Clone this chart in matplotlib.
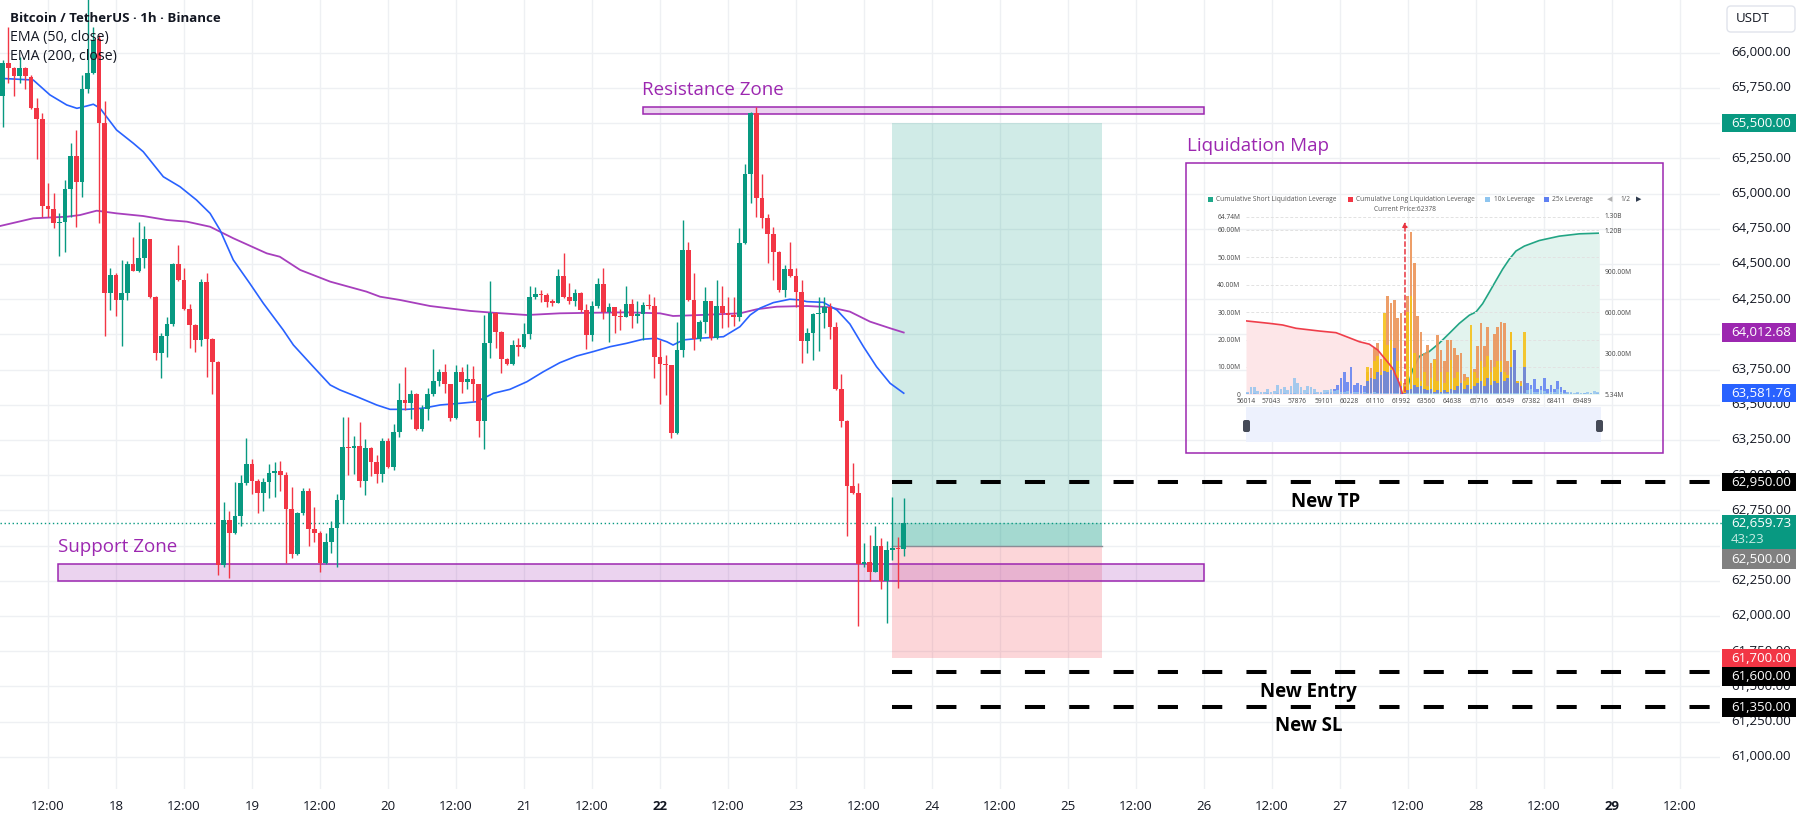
import numpy as np
import matplotlib
matplotlib.use("Agg")
import matplotlib.pyplot as plt
from matplotlib.patches import Rectangle, FancyBboxPatch
import matplotlib.transforms as mtransforms

plt.rcParams['font.family'] = ['Open Sans', 'DejaVu Sans']

# ---------------- DATA ----------------
first_candle_hour = -20   # hours relative to day 18 00:00 (17th 04:00)
opens = [65690, 65930, 65890, 65837, 65889, 65830, 65610, 65527, 64913, 64890,
         64788, 64800, 65030, 65266, 65084, 65740, 65854, 66095, 65504, 64290,
         64423, 64246, 64290, 64500, 64453, 64540, 64676, 64268, 63869, 63988,
         64070, 64500, 64385, 64179, 64064, 63961, 64372, 63969, 63806, 62358,
         62678, 62592, 62706, 62943, 63080, 62961, 62876, 62954, 63014, 63030,
         63000, 62760, 62441, 62734, 62890, 62618, 62592, 62379, 62524, 62621,
         62824, 63203, 63190, 63210, 62959, 63195, 63096, 63009, 63243, 63061,
         63305, 63534, 63514, 63574, 63328, 63468, 63574, 63669, 63731, 63646,
         63409, 63731, 63664, 63683, 63646, 63387, 63937, 64154, 64019, 63823,
         63790, 63924, 63910, 64003, 64263, 64284, 64277, 64232, 64225, 64415,
         64263, 64239, 64292, 64173, 63996, 64200, 64357, 64161, 64192, 64133,
         64125, 64215, 64133, 64145, 64205, 64200, 63837, 63790, 63780, 63302,
         63889, 64599, 64244, 63965, 64086, 64237, 63977, 64202, 64154, 64137,
         64125, 64647, 65137, 65570, 64966, 64824, 64711, 64587, 64315, 64464,
         64417, 64303, 63955, 64008, 64145, 64153, 64192, 64054, 63610, 63387,
         62926, 62876, 62370, 62380, 62315, 62497, 62249, 62469, 62482, 62475]
highs = [65950, 66185, 65900, 65970, 65900, 65840, 65676, 65570, 65073, 65002,
         64859, 65096, 65357, 65451, 65842, 66420, 66185, 66126, 65654, 64472,
         64432, 64527, 64518, 64689, 64798, 64771, 64680, 64270, 64010, 64124,
         64505, 64635, 64472, 64214, 64070, 64390, 64437, 63975, 63810, 62810,
         62747, 62954, 63002, 63262, 63113, 62970, 62978, 63080, 63092, 63103,
         63025, 62916, 62741, 62907, 62907, 62772, 62600, 62588, 62677, 62867,
         63411, 63416, 63281, 63380, 63257, 63200, 63143, 63267, 63267, 63364,
         63657, 63766, 63605, 63580, 63499, 63617, 63896, 63754, 63787, 63650,
         63783, 63766, 63790, 63778, 63650, 64138, 64379, 64160, 64025, 63830,
         63960, 63972, 64079, 64344, 64334, 64315, 64290, 64250, 64464, 64580,
         64363, 64320, 64300, 64216, 64239, 64402, 64473, 64225, 64195, 64180,
         64344, 64249, 64240, 64232, 64287, 64268, 63960, 63853, 63785, 64090,
         64812, 64654, 64434, 64100, 64339, 64240, 64386, 64344, 64268, 64263,
         64753, 65208, 65581, 65612, 65137, 64853, 64765, 64590, 64493, 64654,
         64469, 64386, 64043, 64154, 64268, 64263, 64221, 64090, 63719, 63390,
         63089, 62943, 62521, 62576, 62640, 62552, 62533, 62847, 62563, 62836]
lows = [65470, 65785, 65693, 65785, 65740, 65600, 65243, 64835, 64835, 64757,
        64556, 64582, 64835, 64764, 64977, 65712, 65850, 64793, 63991, 64173,
        64133, 63915, 64241, 64453, 64440, 64472, 64255, 63820, 63692, 63841,
        64060, 64380, 64175, 63901, 63875, 63915, 63700, 63575, 62290, 62350,
        62266, 62580, 62635, 62930, 62867, 62734, 62748, 62836, 62847, 62890,
        62379, 62410, 62430, 62720, 62497, 62528, 62315, 62370, 62450, 62350,
        62663, 63002, 63009, 62914, 62860, 62995, 62943, 62950, 63050, 63037,
        63274, 63463, 63397, 63320, 63316, 63392, 63560, 63634, 63582, 63387,
        63400, 63586, 63610, 63529, 63274, 63184, 63830, 63901, 63724, 63780,
        63785, 63849, 63905, 63965, 64250, 64232, 64196, 64200, 64220, 64260,
        64216, 64200, 64160, 63894, 63955, 64190, 64107, 63948, 64012, 64030,
        64120, 64043, 64080, 63960, 64180, 63692, 63503, 63570, 63266, 63295,
        63841, 64240, 63889, 63950, 64008, 63960, 63970, 64043, 64054, 64059,
        64097, 64640, 64935, 64836, 64753, 64509, 64386, 64303, 64268, 64410,
        64196, 63799, 63870, 63818, 63884, 64043, 63965, 63605, 63340, 62564,
        62867, 61930, 62346, 62249, 62310, 62190, 61953, 62398, 62197, 62422]
closes = [65930, 65890, 65837, 65889, 65837, 65610, 65527, 64913, 64890, 64788,
          64800, 65030, 65266, 65084, 65740, 65854, 66090, 65504, 64290, 64423,
          64246, 64290, 64500, 64453, 64540, 64676, 64268, 63869, 63988, 64070,
          64500, 64385, 64179, 64064, 63961, 64372, 63969, 63806, 62358, 62678,
          62592, 62706, 62943, 63080, 62961, 62876, 62954, 63014, 63030, 63000,
          62760, 62441, 62734, 62890, 62618, 62592, 62379, 62524, 62621, 62824,
          63203, 63190, 63210, 62959, 63195, 63096, 63009, 63243, 63061, 63305,
          63534, 63514, 63574, 63328, 63468, 63574, 63669, 63731, 63646, 63409,
          63731, 63664, 63683, 63646, 63387, 63937, 64154, 64019, 63823, 63790,
          63924, 63910, 64003, 64263, 64284, 64277, 64232, 64225, 64415, 64263,
          64239, 64292, 64173, 63996, 64200, 64357, 64161, 64192, 64133, 64125,
          64215, 64133, 64145, 64205, 64200, 63837, 63790, 63780, 63302, 63889,
          64599, 64244, 63965, 64086, 64237, 63977, 64202, 64154, 64137, 64125,
          64647, 65137, 65570, 64966, 64824, 64711, 64587, 64315, 64464, 64417,
          64303, 63955, 64008, 64145, 64153, 64192, 64054, 63610, 63387, 62926,
          62876, 62370, 62380, 62315, 62497, 62249, 62469, 62482, 62475, 62659.73]

ema50_hours = [-20.47, -14.6, -11.65, -8.7, -6.9, -5.2, -4.0, -2.8, 0.1, 3.05, 4.8, 8.35,
               11.3, 14.2, 16.6, 18.35, 20.7, 23.6, 26.0, 29.5, 31.3, 34.8, 37.8, 39.5,
               42.5, 46.0, 48.35, 51.3, 54.2, 57.2, 60.7, 63.6, 66.6, 69.5, 72.5, 75.4,
               78.3, 81.3, 84.2, 87.2, 90.1, 93.0, 95.4, 97.2, 98.3, 100.1, 103.05, 107.2,
               110.1, 111.9, 113.6, 116.0, 118.9, 120.7, 121.9, 124.8, 127.2, 129.5, 131.9,
               134.2, 136.6, 139]
ema50_vals = [65818, 65806, 65700, 65629, 65605, 65621, 65634, 65605, 65451, 65357, 65297, 65119,
              65048, 64954, 64859, 64741, 64528, 64362, 64220, 64031, 63924, 63770, 63640, 63605,
              63557, 63498, 63467, 63467, 63475, 63498, 63510, 63521, 63581, 63609, 63663, 63734,
              63798, 63846, 63877, 63912, 63936, 63965, 63972, 63947, 63924, 63960, 63972, 63983,
              64054, 64137, 64185, 64225, 64249, 64244, 64232, 64227, 64173, 64073, 63912,
              63770, 63652, 63581.76]
ema200_hours = [-20.47, -14.6, -8.7, -6.35, -3.4, 0.1, 4.8, 8.95, 12.5, 16.6, 20.7, 26.6,
                28.9, 32.5, 37.8, 44.2, 46.6, 50.1, 55.4, 62.5, 66.6, 72.5, 78.3, 84.2,
                90.1, 96.0, 98.3, 103.05, 110.1, 113.1, 116.6, 121.9, 126.0, 129.5, 133.05,
                136.6, 139]
ema200_vals = [64769, 64824, 64835, 64847, 64878, 64859, 64840, 64812, 64800, 64764, 64682, 64575,
               64551, 64457, 64374, 64303, 64267, 64244, 64201, 64166, 64153, 64137, 64149, 64153,
               64156, 64149, 64130, 64137, 64149, 64178, 64196, 64201, 64192, 64161, 64090,
               64043, 64012.68]

current_price = 62659.73
tp_price, entry_price, stop_price = 65500, 62500, 61700
new_levels = [62950, 61600, 61350]
resistance_zone = (65567, 65612)
support_zone = (62246, 62367)

price_ticks = list(range(61000, 66001, 250))
time_tick_hours = list(range(-12, 277, 12))
time_tick_labels = ["12:00", "18", "12:00", "19", "12:00", "20", "12:00", "21", "12:00", "22",
                    "12:00", "23", "12:00", "24", "12:00", "25", "12:00", "26", "12:00", "27",
                    "12:00", "28", "12:00", "29", "12:00"]
bold_time_labels = ["22", "29"]

# liquidation map (values in millions)
liq_light10 = [1.0, 2.5, 2.8, 1.2, 0.8, 1.0, 1.8, 0.9, 1.2, 3.3, 2.0, 2.5, 1.4, 3.0, 5.8, 4.0, 2.8, 1.5,
               3.0, 2.6, 2.0, 1.0, 0.8, 1.5, 1.6, 2.0, 1.2, 1.5,
               1.0, 0.8, 1.2, 0.6, 1.0, 0.8, 0.5, 0.7, 0.6, 0.5, 0.8, 0.6, 0.5, 0.4, 0.6, 0.5, 0.4, 0.3, 0.2,
               0.2, 0.5, 0.6, 0.4, 0.5, 0.3, 0.6, 0.4, 0.5, 0.3, 0.6, 0.4, 0.5, 0.3, 0.4, 0.6, 0.5, 0.4, 0.3,
               0.5, 0.4, 0.6, 0.3, 0.5, 0.4, 0.6, 0.5, 0.4, 0.3, 0.6, 0.5, 0.4, 0.5, 0.3, 0.4, 0.5, 0.6,
               1.5, 2.0, 1.0, 0.8, 1.5, 1.2, 0.6, 1.0, 0.8, 1.8, 0.7, 0.5, 0.8, 1.0, 0.6, 0.7, 0.5, 0.6,
               0.9, 0.5, 1.2, 0.8]
liq_blue25 = [0.3, 0.0, 0.4, 0.0, 0.2, 0.0, 0.3, 0.0, 0.2, 0.5, 0.0, 0.3, 0.0, 0.4, 0.6, 0.0, 0.3, 0.0,
              0.5, 0.0, 0.4, 0.0, 0.3, 0.6, 0.8,
              1.0, 2.0, 3.5, 6.0, 8.0, 4.5, 9.9, 3.5, 4.0, 3.5, 3.0, 5.0, 6.0, 5.5, 8.0, 7.0, 8.5, 8.0,
              9.0, 16.8, 6.0, 3.0,
              0.5, 1.5, 2.0, 3.5, 2.5, 3.0, 2.0, 1.5, 2.0, 1.0, 1.5, 0.8, 1.5, 1.0, 2.0, 1.5, 3.0, 4.0,
              2.0, 3.5, 2.0, 3.0, 4.0, 5.0, 3.0, 6.0, 3.5, 5.0, 4.0, 8.0, 5.0, 6.0, 10.0, 16.0, 4.0, 3.0,
              10.0, 4.0, 3.5, 5.5, 2.0, 3.0, 6.0, 2.0, 3.5, 2.0, 5.0, 2.5, 1.5, 1.0,
              0.5, 0.0, 0.6, 0.0, 0.4, 0.0, 0.5, 0.0, 0.3]
liq_yellow = [0.0] * 36 + [9.9, 6, 12, 14, 8, 29.6, 18, 20, 15, 12, 5, 3, 30, 36, 15, 6, 5, 8, 3, 6,
                           12.5, 5, 8, 4, 8, 12.5, 6, 8, 4, 5, 6, 25.3, 8, 6, 12, 10, 14, 8, 10, 12,
                           12, 8, 7, 22.9, 10, 5, 4, 22.9] + [0.0] * 22
liq_orange = [0.0] * 36 + [8, 9.5, 16.8, 18.9, 13, 20, 35.9, 33.2, 34.4, 27.7, 29.6, 4, 36, 59.4, 47.8,
                           28.5, 22.9, 15, 18, 11.3, 13, 21.7, 16, 12, 19.8, 19.8, 16.8, 14.5, 15, 7.5,
                           6.3, 9, 9.3, 17.5, 25.9, 17.8, 24.5, 12.5, 22, 24.7, 26.5, 26, 12, 22.9, 16,
                           5, 5, 7] + [0.0] * 22
liq_long_x = [-0.5, 6.5, 10.5, 14.5, 21.5, 26.5, 29.5, 33.5, 36.5, 39, 41.5, 43.5, 45.5, 46.5]
liq_long_y = [26.8, 25.9, 25.3, 24.1, 23.1, 22.5, 21.1, 19.2, 18.3, 16.2, 12.5, 9.5, 4.0, 0.0]
liq_short_x = [47.5, 49.5, 51.5, 54.5, 57.5, 60.5, 63.5, 66.5, 68.5, 70.5, 72.5, 74.5, 76.5, 78.5,
               80.5, 83, 87.5, 93.5, 99.5, 105.5]
liq_short_y = [12, 181, 278, 314, 375, 447, 520, 580, 604, 665, 749, 834, 918, 991, 1051, 1087,
               1128, 1160, 1177, 1182]
liq_current_bin = 47.2
liq_xtick_pos = [-0.5, 7, 14.8, 22.8, 30.5, 38.2, 46, 53.7, 61.5, 69.3, 77.3, 85, 92.7, 100.5]
liq_xtick_labels = ["56014", "57043", "57876", "59101", "60228", "61110", "61992", "63560",
                    "64638", "65716", "66549", "67382", "68411", "69489"]
liq_left_ticks = [0, 10, 20, 30, 40, 50, 60, 64.74]
liq_left_labels = ["0", "10.00M", "20.00M", "30.00M", "40.00M", "50.00M", "60.00M", "64.74M"]
liq_right_ticks = [0, 300, 600, 900, 1200, 1310]
liq_right_labels = ["5.34M", "300.00M", "600.00M", "900.00M", "1.20B", "1.30B"]

# ---------------- FIGURE ----------------
W, H = 1802, 822
fig = plt.figure(figsize=(W / 100, H / 100), dpi=100)
fig.patch.set_facecolor('white')
pix = mtransforms.Affine2D().scale(1.0 / W, -1.0 / H).translate(0, 1) + fig.transFigure


def fbox(x0, y0, x1, y1):
    return [x0 / W, 1 - y1 / H, (x1 - x0) / W, (y1 - y0) / H]


UP, DOWN = '#089981', '#f23645'
PURPLE = '#9c27b0'
TXT = '#131722'

ax = fig.add_axes(fbox(0, 0, 1720, 789))
XMAX = 283.04
ax.set_xlim(-20.47, XMAX)
ax.set_ylim(60770.6, 66374.3)
for s in ax.spines.values():
    s.set_visible(False)
ax.set_xticks([])
ax.set_yticks([])

for p in price_ticks:
    ax.axhline(p, color='#eef0f3', lw=1, zorder=0)
for hh in time_tick_hours:
    ax.axvline(hh, color='#eef0f3', lw=1, zorder=0)

# position tool
pos_x0, pos_x1 = 137, 174
ax.add_patch(Rectangle((pos_x0, entry_price), pos_x1 - pos_x0, tp_price - entry_price,
                       facecolor=UP, alpha=0.19, lw=0, zorder=1))
ax.add_patch(Rectangle((pos_x0, stop_price), pos_x1 - pos_x0, entry_price - stop_price,
                       facecolor=DOWN, alpha=0.2, lw=0, zorder=1))
ax.add_patch(Rectangle((pos_x0, entry_price), pos_x1 - pos_x0, current_price - entry_price,
                       facecolor=UP, alpha=0.22, lw=0, zorder=1))
ax.plot([pos_x0, pos_x1], [entry_price, entry_price], color='#8a8d96', lw=1, zorder=2)

# zones
ax.add_patch(Rectangle((93, resistance_zone[0]), 192 - 93, resistance_zone[1] - resistance_zone[0],
                       facecolor=(0.612, 0.153, 0.690, 0.2), edgecolor=PURPLE, lw=1.1, zorder=2))
ax.add_patch(Rectangle((-10.25, support_zone[0]), 192 + 10.25, support_zone[1] - support_zone[0],
                       facecolor=(0.612, 0.153, 0.690, 0.2), edgecolor=PURPLE, lw=1.1, zorder=2))

# current price dotted
ax.plot([-20.47, 283.4], [current_price, current_price], color=UP, lw=1.0,
        dashes=(1, 1.9), zorder=2, clip_on=False)

# dashed levels
for lv in new_levels:
    ax.plot([pos_x0, XMAX], [lv, lv], color='black', lw=2.9, dashes=(5, 6), zorder=5,
            solid_capstyle='butt', dash_capstyle='butt')

# EMAs
ax.plot(ema200_hours, ema200_vals, color='#a73fbd', lw=1.3, zorder=3)
ax.plot(ema50_hours, ema50_vals, color='#2962ff', lw=1.2, zorder=3)

# candles
o = np.array(opens, float); hi = np.array(highs, float)
lo = np.array(lows, float); c = np.array(closes, float)
hrs = first_candle_hour + np.arange(len(o))
cols = np.where(c >= o, UP, DOWN)
ax.vlines(hrs, lo, hi, colors=cols, lw=1.0, zorder=4)
body_bot = np.minimum(o, c)
body_h = np.maximum(np.abs(c - o), 8)
ax.bar(hrs, body_h, bottom=body_bot, width=0.8, color=cols, linewidth=0, zorder=4)

# annotations
ax.text(92.8, 65735, "Resistance Zone", color=PURPLE, fontsize=13.5, va='center', ha='left', zorder=6)
ax.text(-10.2, 62489, "Support Zone", color=PURPLE, fontsize=13.5, va='center', ha='left', zorder=6)
ax.text(189.0, 65337, "Liquidation Map", color=PURPLE, fontsize=13.5, va='center', ha='left', zorder=6)
ax.text(213.5, 62809, "New TP", color='black', fontsize=13.5, fontweight='bold', va='center', ha='center', zorder=6)
ax.text(210.4, 61460, "New Entry", color='black', fontsize=13.5, fontweight='bold', va='center', ha='center', zorder=6)
ax.text(210.4, 61215, "New SL", color='black', fontsize=13.5, fontweight='bold', va='center', ha='center', zorder=6)

# ---------------- header ----------------
fig.text(10, 18, "Bitcoin / TetherUS · 1h · Binance", transform=pix, fontsize=9.5,
         fontweight='bold', color=TXT, va='center', ha='left')
fig.text(10, 37.5, "EMA (50, close)", transform=pix, fontsize=10.2, color=TXT, va='center', ha='left')
fig.text(10, 56.5, "EMA (200, close)", transform=pix, fontsize=10.2, color=TXT, va='center', ha='left')


def py(p):
    return H - ax.transData.transform((0, p))[1]


# ---------------- price scale ----------------
# plain tick labels sit below the coloured level boxes (as on the reference)
for p in price_ticks:
    fig.text(1731, py(p), f"{p:,.2f}", transform=pix, fontsize=9.5, color=TXT, va='center',
             ha='left', zorder=0.5)

fig.patches.append(FancyBboxPatch((1727, 6), 68, 26, boxstyle="round,pad=0,rounding_size=4",
                                  facecolor='white', edgecolor='#e0e3eb', lw=1, transform=pix))
fig.text(1736, 19, "USDT", transform=pix, fontsize=9.5, color=TXT, va='center', ha='left')

BOXH = 18.5
label_boxes = [(tp_price, f"{tp_price:,.2f}", UP, 0),
               (ema200_vals[-1], f"{ema200_vals[-1]:,.2f}", PURPLE, 0),
               (ema50_vals[-1], f"{ema50_vals[-1]:,.2f}", '#2962ff', 0),
               (new_levels[0], f"{new_levels[0]:,.2f}", '#000000', 0),
               (stop_price, f"{stop_price:,.2f}", DOWN, 0),
               (new_levels[1], f"{new_levels[1]:,.2f}", '#000000', 4.5),
               (new_levels[2], f"{new_levels[2]:,.2f}", '#000000', 0)]
for p, s, col, off in label_boxes:
    yc = py(p) + off
    fig.patches.append(Rectangle((1722, yc - BOXH / 2), 74, BOXH, facecolor=col, lw=0,
                                 transform=pix, zorder=1))
    fig.text(1731, yc, s, transform=pix, fontsize=9.5, color='white', va='center', ha='left', zorder=3)

# current price box (two lines) and entry box
ycp = py(current_price)
fig.patches.append(Rectangle((1722, ycp - 8), 74, 34.3, facecolor=UP, lw=0, transform=pix, zorder=1))
fig.text(1731, ycp + 0.5, f"{current_price:,.2f}", transform=pix, fontsize=9.5, color='white',
         va='center', ha='left', zorder=3)
fig.text(1731, ycp + 16.5, "43:23", transform=pix, fontsize=9.5, color='#c8ece4', va='center',
         ha='left', zorder=3)
yen = ycp - 8 + 34.3
fig.patches.append(Rectangle((1722, yen), 74, 19.4, facecolor='#808080', lw=0, transform=pix, zorder=1))
fig.text(1731, yen + 9.7, f"{entry_price:,.2f}", transform=pix, fontsize=9.5, color='white',
         va='center', ha='left', zorder=3)

# ---------------- time axis ----------------
for hh, lab in zip(time_tick_hours, time_tick_labels):
    xpix = ax.transData.transform((hh, 0))[0]
    fig.text(xpix, 806, lab, transform=pix, fontsize=9.5, color=TXT, va='center', ha='center',
             fontweight='bold' if lab in bold_time_labels else 'normal')

# ---------------- liquidation map inset ----------------
fig.patches.append(Rectangle((1186, 163), 477, 290, facecolor='none', edgecolor=PURPLE, lw=1.1,
                             transform=pix, zorder=5))

axl = fig.add_axes(fbox(1246, 215.7, 1599.3, 394.3))
axr = axl.twinx()
axl.set_zorder(3)
axr.set_zorder(2)
axl.patch.set_visible(False)
axr.patch.set_visible(False)
axl.set_xlim(-0.5, 105.5)
axl.set_ylim(0, 65.2)
axr.set_ylim(0, 1310)
for a in (axl, axr):
    for s in a.spines.values():
        s.set_visible(False)

for v in liq_left_ticks[1:]:
    axl.axhline(v, color='#e2e2e2', lw=0.7, ls=(0, (3, 2)), zorder=0)

axr.fill_between(liq_short_x, liq_short_y, 0, color='#e2f3ee', lw=0, zorder=1)
axr.plot(liq_short_x, liq_short_y, color='#22a584', lw=1.2, zorder=2)

axl.fill_between(liq_long_x, liq_long_y, 0, color='#fde6e8', lw=0, zorder=1)
k = np.arange(len(liq_orange))
axl.bar(k, liq_orange, width=0.72, color='#ec9458', alpha=0.9, lw=0, zorder=2)
axl.bar(k, liq_yellow, width=0.72, color='#f5c21c', alpha=0.9, lw=0, zorder=2.1)
axl.bar(k, liq_blue25, width=0.72, color='#5f80f2', alpha=0.85, lw=0, zorder=2.2)
axl.bar(k, liq_light10, width=0.72, color='#95c4ee', alpha=0.85, lw=0, zorder=2.3)
axl.plot(liq_long_x, liq_long_y, color='#ef3e4a', lw=1.2, zorder=3)
axl.annotate('', xy=(liq_current_bin, 64.0), xytext=(liq_current_bin, 0),
             arrowprops=dict(arrowstyle='-|>', color='#e8333f', lw=1.1, linestyle=(0, (3, 2)),
                             mutation_scale=7), zorder=4)

axl.set_xticks(liq_xtick_pos)
axl.set_xticklabels(liq_xtick_labels)
axl.set_yticks(liq_left_ticks)
axl.set_yticklabels(liq_left_labels)
axr.set_yticks(liq_right_ticks)
axr.set_yticklabels(liq_right_labels)
axl.tick_params(axis='both', length=0, labelsize=4.8, labelcolor='#444444')
axl.tick_params(axis='x', pad=2.5)
axl.tick_params(axis='y', pad=4)
axr.tick_params(axis='y', length=0, labelsize=4.8, labelcolor='#444444', pad=3.6)

# legend row
leg = [(1207.5, '#1fa88a', "Cumulative Short Liquidation Leverage"),
       (1347.5, '#f23645', "Cumulative Long Liquidation Leverage"),
       (1485.0, '#8ec5ef', "10x Leverage"),
       (1543.5, '#5f80f2', "25x Leverage")]
for x0, col, s in leg:
    fig.patches.append(Rectangle((x0, 196.5), 5, 5, facecolor=col, lw=0, transform=pix))
    fig.text(x0 + 9, 199.3, s, transform=pix, fontsize=4.8, color='#555555', va='center', ha='left')
fig.text(1610, 199.3, "◀", transform=pix, fontsize=5, color='#b0b0b0', va='center', ha='center')
fig.text(1625, 199.3, "1/2", transform=pix, fontsize=4.8, color='#555555', va='center', ha='center')
fig.text(1638.5, 199.3, "▶", transform=pix, fontsize=5, color='#2e3a4d', va='center', ha='center')
fig.text(1405, 209, "Current Price:62378", transform=pix, fontsize=4.8, color='#555555',
         va='center', ha='center')

# slider
fig.patches.append(Rectangle((1246, 406.7), 355, 35, facecolor='#edf1fd', lw=0, transform=pix))
for hx in (1243, 1596):
    fig.patches.append(FancyBboxPatch((hx, 420), 7, 12, boxstyle="round,pad=0,rounding_size=2",
                                      facecolor='#454a57', lw=0, transform=pix))

fig.savefig("out.png", dpi=100, facecolor='white')
